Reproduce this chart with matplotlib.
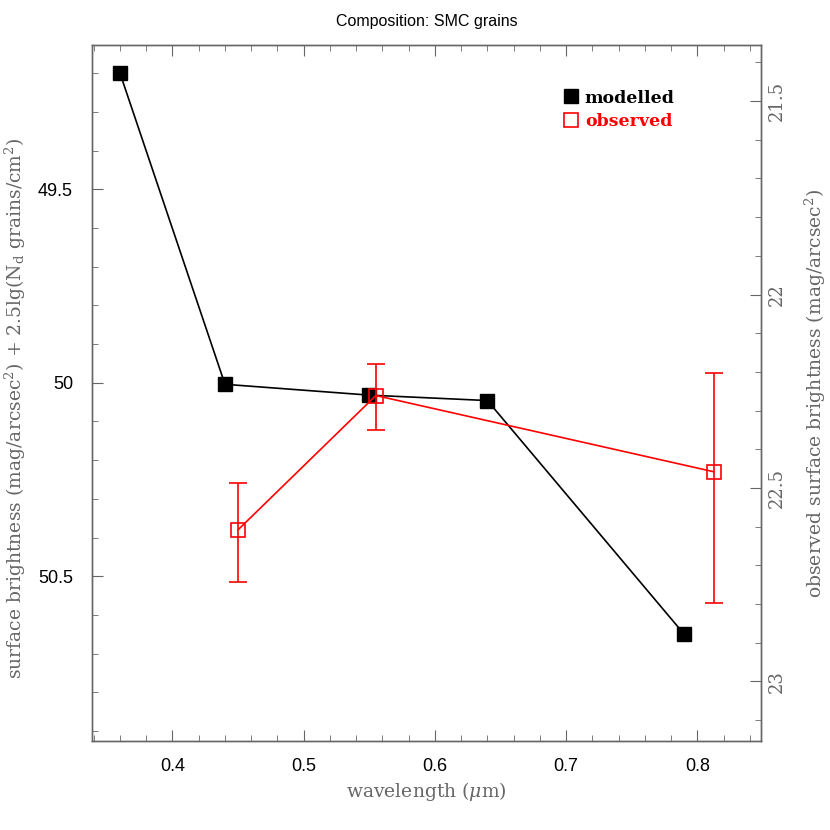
import matplotlib
matplotlib.use('Agg')
import matplotlib.pyplot as plt
from matplotlib.lines import Line2D
from matplotlib.ticker import MultipleLocator, FuncFormatter

# modelled surface brightness (left axis)
wl_model = [0.36, 0.44, 0.55, 0.64, 0.79]
sb_model = [49.20, 50.004, 50.032, 50.046, 50.65]

# observed surface brightness (right axis, mag/arcsec^2)
wl_obs = [0.45, 0.555, 0.8125]
sb_obs = [22.608, 22.261, 22.458]
err_up = [0.122, 0.082, 0.256]    # towards brighter (top)
err_down = [0.136, 0.089, 0.339]  # towards fainter (bottom)

plt.rcParams['mathtext.fontset'] = 'dejavuserif'
grey = '#666666'
label_col = '#666666'
sans = 'Liberation Sans'
serif = 'DejaVu Serif'

fig = plt.figure(figsize=(8.3, 8.3), dpi=100)
ax = fig.add_axes([0.1114, 0.1072, 0.8054, 0.8386])
ax2 = ax.twinx()

# modelled
ax.plot(wl_model, sb_model, color='black', lw=1.2, marker='s', ms=9.6,
        mfc='black', mec='black', zorder=3)

# observed
ax2.errorbar(wl_obs, sb_obs, yerr=[err_up, err_down], color='red', lw=1.2,
             elinewidth=1.2, capsize=6.8, capthick=1.2, marker='s', ms=10,
             mfc='none', mec='red', mew=1.2)

ax.set_xlim(0.339, 0.8485)
ax.set_ylim(50.926, 49.127)
ax2.set_ylim(50.926 - 27.772, 49.127 - 27.772)

# ticks
ax.xaxis.set_major_locator(MultipleLocator(0.1))
ax.xaxis.set_minor_locator(MultipleLocator(0.02))
ax.yaxis.set_major_locator(MultipleLocator(0.5))
ax.yaxis.set_minor_locator(MultipleLocator(0.1))
ax2.yaxis.set_major_locator(MultipleLocator(0.5))
ax2.yaxis.set_minor_locator(MultipleLocator(0.1))
fmt = FuncFormatter(lambda v, p: '%g' % round(v, 3))
ax.xaxis.set_major_formatter(fmt)
ax.yaxis.set_major_formatter(fmt)
ax2.yaxis.set_major_formatter(fmt)

ax.tick_params(which='both', direction='in', top=True, right=False,
               color=grey, labelsize=13)
ax.tick_params(axis='x', pad=12)
ax.tick_params(axis='y', pad=14)
ax.tick_params(which='major', length=8)
ax.tick_params(which='minor', length=4.3)
ax2.tick_params(which='both', direction='in', color=grey, labelsize=13,
                labelcolor=label_col, pad=5)
ax2.tick_params(which='major', length=8)
ax2.tick_params(which='minor', length=4.3)
for lab in ax.get_xticklabels() + ax.get_yticklabels():
    lab.set_family(sans)
for lab in ax2.get_yticklabels():
    lab.set_family(serif)
    lab.set_rotation(90)
    lab.set_va('center')

for a in (ax, ax2):
    for s in a.spines.values():
        s.set_color(grey)
        s.set_linewidth(1.0)

ax.set_xlabel(r'wavelength ($\mu$m)', family=serif, fontsize=13.5,
              color=label_col, labelpad=4)
ax.set_ylabel(r'surface brightness (mag/arcsec$^2$) + 2.5lg(N$_{\rm d}$ grains/cm$^2$)',
              family=serif, fontsize=13.5, color=label_col)
ax.yaxis.set_label_coords(-0.097, 0.478)
ax2.set_ylabel(r'observed surface brightness (mag/arcsec$^2$)', family=serif,
               fontsize=13.5, color=label_col, labelpad=12)
ax.set_title('Composition: SMC grains', family=sans, fontsize=11.5, pad=14)

handles = [
    Line2D([], [], ls='none', marker='s', ms=9.6, mfc='black', mec='black'),
    Line2D([], [], ls='none', marker='s', ms=10, mfc='none', mec='red', mew=1.2),
]
leg = ax2.legend(handles, ['modelled', 'observed'], loc='upper left',
                 bbox_to_anchor=(0.695, 0.946), frameon=False,
                 handlelength=0.8, handletextpad=0.4, borderaxespad=0,
                 labelspacing=0.4, prop={'family': 'DejaVu Serif', 'weight': 'bold', 'size': 12.5})
leg.get_texts()[1].set_color('red')

fig.savefig('out.png', dpi=100)
